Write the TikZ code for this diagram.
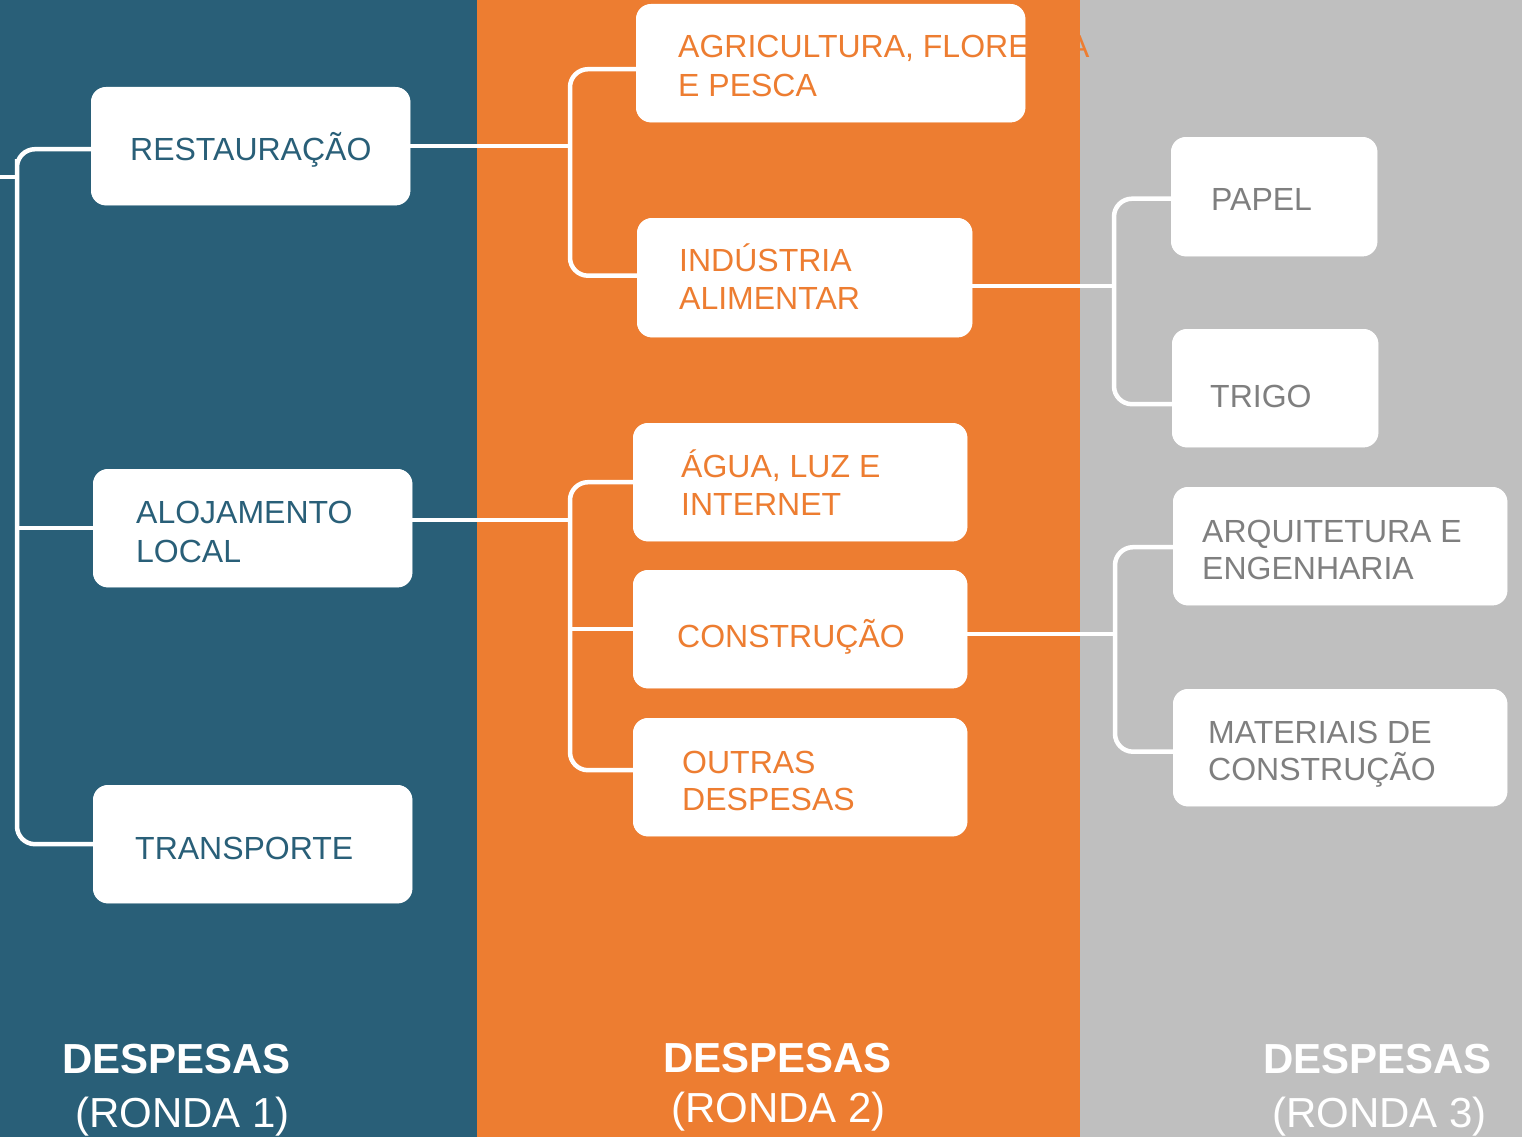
\documentclass[tikz,border=0pt]{standalone}
\usepackage{fontspec}
\setmainfont{Liberation Sans}
\usetikzlibrary{calc}
\definecolor{bandblue}{RGB}{41,95,120}
\definecolor{bandorange}{RGB}{237,125,49}
\definecolor{bandgrey}{RGB}{191,191,191}
\definecolor{txtgrey}{RGB}{127,127,127}
\tikzset{
  box/.style={fill=white, draw=none, rounded corners=15pt, anchor=north west, inner sep=0pt},
  conn/.style={draw=white, line width=4.5pt, rounded corners=18pt},
  lbl/.style={anchor=base west, inner sep=0pt, font=\fontsize{32}{39}\selectfont},
  bluetxt/.style={lbl, text=bandblue},
  orgtxt/.style={lbl, text=bandorange},
  greytxt/.style={lbl, text=txtgrey},
  ttl/.style={anchor=base west, inner sep=0pt, text=white, font=\fontsize{42}{50}\selectfont\bfseries},
  sub/.style={anchor=base west, inner sep=0pt, text=white, font=\fontsize{42}{50}\selectfont},
}
\begin{document}
\begin{tikzpicture}[x=1pt, y=-1pt]
\useasboundingbox (0,0) rectangle (1522,1137);
\clip (0,0) rectangle (1522,1137);
% bands
\fill[bandblue] (0,0) rectangle (477,1137);
\fill[bandorange] (477,0) rectangle (1080,1137);
\fill[bandgrey] (1080,0) rectangle (1522,1137);

% boxes
\node[box, minimum width=319pt, minimum height=118pt] (rest) at (91,87) {};
\node[box, minimum width=319pt, minimum height=118pt] (alo) at (93,469) {};
\node[box, minimum width=319pt, minimum height=118pt] (trans) at (93,785) {};
\node[box, minimum width=389pt, minimum height=118pt] (agri) at (636,4) {};
\node[box, minimum width=335pt, minimum height=119pt] (ind) at (637,218) {};
\node[box, minimum width=334pt, minimum height=118pt] (agua) at (633,423) {};
\node[box, minimum width=334pt, minimum height=118pt] (constr) at (633,570) {};
\node[box, minimum width=334pt, minimum height=118pt] (outras) at (633,718) {};
\node[box, minimum width=206pt, minimum height=119pt] (papel) at (1171,137) {};
\node[box, minimum width=206pt, minimum height=118pt] (trigo) at (1172,329) {};
\node[box, minimum width=334pt, minimum height=118pt] (arq) at (1173,487) {};
\node[box, minimum width=334pt, minimum height=117pt] (mat) at (1173,689) {};

% junction coordinates
\coordinate (Lin) at (0,177);
\coordinate (L) at (17,177);
\coordinate (J1) at (570,146);
\coordinate (J2) at (1114,286);
\coordinate (J3) at (570,520);
\coordinate (J4) at (1115,634);

% connectors
\draw[conn] (Lin) -- (L);
\draw[conn] ($(rest.west)+(0,3)$) -| (L) |- (trans.west);
\draw[conn] (alo.west) -- (alo.west -| L);

\draw[conn] (rest.east |- J1) -- (J1);
\draw[conn] ($(agri.west)+(0,6)$) -| (J1) |- ($(ind.west)+(0,-2)$);

\draw[conn] (ind.east |- J2) -- (J2);
\draw[conn] ($(papel.west)+(0,2)$) -| (J2) |- ($(trigo.west)+(0,16)$);

\draw[conn] (alo.east |- J3) -- (J3);
\draw[conn] (agua.west) -| (J3) |- ($(outras.west)+(0,-7)$);
\draw[conn] (constr.west) -- (constr.west -| J3);

\draw[conn] (constr.east |- J4) -- (J4);
\draw[conn] ($(arq.west)+(0,1)$) -| (J4) |- ($(mat.west)+(0,4)$);

% redraw boxes on top of connector ends
\foreach \n in {rest,alo,trans,agri,ind,agua,constr,outras,papel,trigo,arq,mat}{
  \fill[white, rounded corners=15pt] (\n.north west) rectangle (\n.south east);
}

% texts
\node[bluetxt] (t-rest) at (130,160) {RESTAURAÇÃO};
\node[bluetxt] (t-alo1) at (136,523) {ALOJAMENTO};
\node[bluetxt] (t-alo2) at (136,562) {LOCAL};
\node[bluetxt] (t-trans) at (135,859) {TRANSPORTE};

\node[orgtxt] (t-agri1) at (678,58) {AGRICULTURA, FLORESTA};
\node[orgtxt] (t-agri2) at (678,97) {E PESCA};
\node[orgtxt] (t-ind1) at (679,271) {INDÚSTRIA};
\node[orgtxt] (t-ind2) at (679,309) {ALIMENTAR};
\node[orgtxt] (t-agua1) at (681,477) {ÁGUA, LUZ E};
\node[orgtxt] (t-agua2) at (681,515) {INTERNET};
\node[orgtxt] (t-constr) at (677,647) {CONSTRUÇÃO};
\node[orgtxt] (t-out1) at (682,773) {OUTRAS};
\node[orgtxt] (t-out2) at (682,810) {DESPESAS};

\node[greytxt] (t-papel) at (1211,210) {PAPEL};
\node[greytxt] (t-trigo) at (1210,407) {TRIGO};
\node[greytxt] (t-arq1) at (1202,542) {ARQUITETURA E};
\node[greytxt] (t-arq2) at (1202,579) {ENGENHARIA};
\node[greytxt] (t-mat1) at (1208,743) {MATERIAIS DE};
\node[greytxt] (t-mat2) at (1208,780) {CONSTRUÇÃO};

% column titles
\node[ttl] (d1) at (62,1073) {DESPESAS};
\node[sub] (r1) at (75,1127) {(RONDA 1)};
\node[ttl] (d2) at (663,1072) {DESPESAS};
\node[sub] (r2) at (671,1122) {(RONDA 2)};
\node[ttl] (d3) at (1263,1073) {DESPESAS};
\node[sub] (r3) at (1272,1127) {(RONDA 3)};
\end{tikzpicture}
\end{document}
